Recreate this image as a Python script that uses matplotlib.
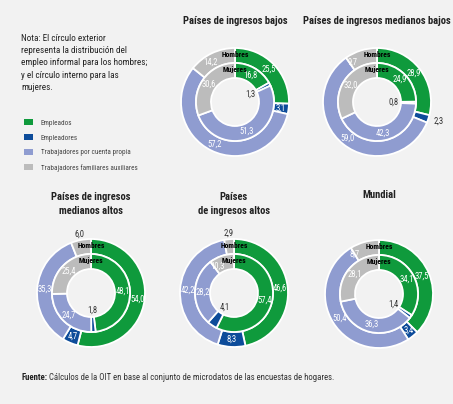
import numpy as np
import matplotlib
matplotlib.use("Agg")
import matplotlib.pyplot as plt
from matplotlib import font_manager
from matplotlib.patches import Patch

# fuente estrecha parecida a la del original, si esta instalada
pesos = {}
for f in font_manager.fontManager.ttflist:
    try:
        p = int(f.weight)
    except (TypeError, ValueError):
        p = 700 if "bold" in str(f.weight) else 400
    pesos.setdefault(f.name, set()).add(p)

preferidas = ["Roboto Condensed", "Archivo Narrow", "PT Sans Narrow", "Fira Sans Condensed",
              "IBM Plex Sans Condensed", "Asap Condensed", "Barlow Semi Condensed",
              "Encode Sans Condensed", "Open Sans Condensed", "Liberation Sans Narrow"]
estrecha = None
for n in preferidas:
    if n in pesos and 400 in pesos[n] and any(p >= 600 for p in pesos[n]):
        estrecha = n
        break

if estrecha:
    plt.rcParams['font.family'] = [estrecha, 'DejaVu Sans']
    escala = 1.0
else:
    plt.rcParams['font.family'] = ['Liberation Sans', 'DejaVu Sans']
    escala = 0.8

W, H = 453, 404

categorias = ["Empleados", "Empleadores", "Trabajadores por cuenta propia",
              "Trabajadores familiares auxiliares"]
colores = ["#0f9a3c", "#0d4c9a", "#8f9cd0", "#bcbcbc"]

titulos = ["Países de ingresos bajos", "Países de ingresos medianos bajos",
           "Países de ingresos\nmedianos altos", "Países\nde ingresos altos", "Mundial"]
hombres = [[25.5, 3.1, 57.2, 14.2],
           [28.9, 2.3, 59.0, 9.7],
           [54.0, 4.7, 35.3, 6.0],
           [46.6, 8.3, 42.2, 2.9],
           [37.5, 3.4, 50.4, 8.7]]
mujeres = [[16.8, 1.3, 51.3, 30.6],
           [24.9, 0.8, 42.3, 32.0],
           [48.1, 1.8, 24.7, 25.4],
           [57.4, 4.1, 28.2, 10.3],
           [34.1, 1.4, 36.3, 28.1]]

centros = [(235, 102), (377, 102), (91, 293), (234, 293), (379, 294)]
titulo_y = [22, 22, 197, 197, 195]
fuera = {(1, 1), (2, 3), (3, 3)}

R, ANCHO = 54, 15

fig = plt.figure(figsize=(W / 100, H / 100), dpi=100)
fig.patch.set_facecolor("#f2f2f2")
ax = fig.add_axes([0, 0, 1, 1])
ax.set_facecolor("#f2f2f2")


def fmt(v):
    return f"{v:.1f}".replace(".", ",")


def angulo(w, gris):
    a = ((w.theta1 + w.theta2) / 2) % 360
    # las etiquetas grises se apartan de Hombres/Mujeres
    if gris and 90 <= a < 122:
        a = 122
    return np.deg2rad(a)


FS = 6.2 * escala
for k in range(5):
    cx, cy = centros[k]
    cy = H - cy
    wo, _ = ax.pie(hombres[k], colors=colores, radius=R, center=(cx, cy),
                   startangle=90, counterclock=False,
                   wedgeprops=dict(width=ANCHO, edgecolor="white", linewidth=1.3))
    wi, _ = ax.pie(mujeres[k], colors=colores, radius=R - ANCHO, center=(cx, cy),
                   startangle=90, counterclock=False,
                   wedgeprops=dict(width=ANCHO, edgecolor="white", linewidth=1.3))

    for i, w in enumerate(wo):
        if (k, i) in fuera:
            a = angulo(w, False)
            r = R + 6
            ha = "left" if i == 1 else "center"
            col = "#333333"
        else:
            a = angulo(w, i == 3)
            r = R - ANCHO / 2
            ha = "center"
            col = "white"
        ax.text(cx + r * np.cos(a), cy + r * np.sin(a), fmt(hombres[k][i]),
                ha=ha, va="center", fontsize=FS, color=col)
    for i, w in enumerate(wi):
        a = angulo(w, i == 3)
        if i == 1:
            r = 17
            col = "#333333"
        else:
            r = R - ANCHO - ANCHO / 2
            col = "white"
        ax.text(cx + r * np.cos(a), cy + r * np.sin(a), fmt(mujeres[k][i]),
                ha="center", va="center", fontsize=FS, color=col)

    ax.text(cx, cy + R - ANCHO / 2 + 1, "Hombres", ha="center", va="center",
            fontsize=5.5 * escala, fontweight="bold", color="black")
    ax.text(cx, cy + R - ANCHO - ANCHO / 2 + 1, "Mujeres", ha="center", va="center",
            fontsize=5.5 * escala, fontweight="bold", color="black")
    ax.text(cx, H - titulo_y[k] + 5.5, titulos[k], ha="center", va="top",
            fontsize=7.6 * escala, fontweight="bold", color="#222222", linespacing=1.5)

ax.set_xlim(0, W)
ax.set_ylim(0, H)
ax.set_aspect("equal")
ax.axis("off")

nota = ("Nota: El círculo exterior\nrepresenta la distribución del\n"
        "empleo informal para los hombres;\ny el círculo interno para las\nmujeres.")
ax.text(21, H - 34, nota, ha="left", va="top", fontsize=6.6 * escala, color="#222222",
        linespacing=1.46 / escala)

leg_handles = [Patch(facecolor=c, edgecolor="none") for c in colores]
ax.legend(leg_handles, categorias, loc="upper left",
          bbox_to_anchor=(18 / W, 1 - 113 / H), frameon=False, fontsize=5.1 * escala,
          handlelength=1.2, handleheight=0.9, handletextpad=1.1,
          labelspacing=1.05 / escala, labelcolor="#444444")

t1 = ax.text(21, H - 377, "Fuente:", ha="left", va="center", fontsize=6.3 * escala,
             fontweight="bold", color="#222222")
ax.annotate(" Cálculos de la OIT en base al conjunto de microdatos de las encuestas de hogares.",
            xy=(1, 0.5), xycoords=t1, ha="left", va="center", fontsize=6.3 * escala,
            color="#333333")

fig.savefig("out.png", dpi=100, facecolor=fig.get_facecolor())
